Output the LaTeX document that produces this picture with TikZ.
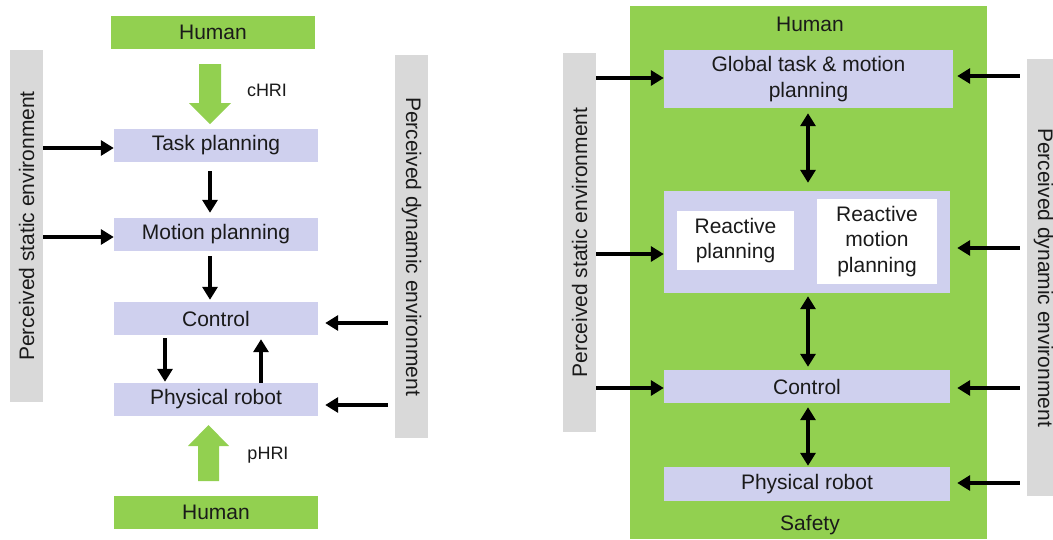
\documentclass[tikz,border=0pt]{standalone}
\usepackage{fontspec}
\setmainfont{Liberation Sans}
\usetikzlibrary{arrows.meta,calc}
\definecolor{hgreen}{HTML}{92D050}
\definecolor{lav}{HTML}{CFD0EE}
\definecolor{gbar}{HTML}{D9D9D9}
\definecolor{txt}{HTML}{1A1A1A}
\begin{document}
\begin{tikzpicture}[x=1pt,y=-1pt,
  tfont/.style={text=txt, font=\fontsize{21}{25.3}\selectfont, align=center},
  box/.style={tfont, fill=lav, inner sep=0pt},
  hbox/.style={tfont, fill=hgreen, inner sep=0pt},
  wbox/.style={tfont, fill=white, inner sep=0pt},
  bar/.style={fill=gbar, inner sep=0pt, minimum width=33pt},
  lbl/.style={tfont, inner sep=0pt},
  arr/.style={line width=4.3pt, -{Triangle[length=13pt,width=15pt]}},
  darr/.style={line width=4.3pt, {Triangle[length=13pt,width=15pt]}-{Triangle[length=13pt,width=15pt]}}
]
\useasboundingbox (0,0) rectangle (1053,539);
\fill[white] (0,0) rectangle (1053,539);

% ---------------- left diagram ----------------
\node[hbox, minimum width=204pt, minimum height=33pt] (hum1) at (213,32.5) {Human};
\node[box, minimum width=204pt, minimum height=33pt] (tp) at (216,145.5) {Task planning};
\node[box, minimum width=204pt, minimum height=33pt] (mp) at (216,234.5) {Motion planning};
\node[box, minimum width=204pt, minimum height=33pt] (ctl) at (216,318.5) {Control};
\node[box, minimum width=204pt, minimum height=33pt] (pr) at (216,399.5) {Physical robot};
\node[hbox, minimum width=204pt, minimum height=33pt] (hum2) at (216,512.5) {Human};

\node[bar, minimum height=352pt] (barL1) at (26.5,226) {};
\node[lbl, rotate=90] (tL1) at (barL1.center) {Perceived static environment};
\node[bar, minimum height=383pt] (barR1) at (411.5,246.5) {};
\node[lbl, rotate=-90] (tR1) at (barR1.center) {Perceived dynamic environment};

% green block arrows
\fill[hgreen] (199,64) -- (221,64) -- (221,103) -- (231,103) -- (210,124) -- (189,103) -- (199,103) -- cycle;
\fill[hgreen] (198,481) -- (219,481) -- (219,446) -- (229,446) -- (208.5,425) -- (188,446) -- (198,446) -- cycle;
\node[lbl, font=\fontsize{18}{20}\selectfont] (chri) at (267,90) {cHRI};
\node[lbl, font=\fontsize{18}{20}\selectfont] (phri) at (268,455) {pHRI};

% black arrows
\draw[arr, shorten <=9pt, shorten >=5pt] ([xshift=-6pt]tp.south) -- ([xshift=-6pt]mp.north);
\draw[arr, shorten <=5pt, shorten >=2pt] ([xshift=-6pt]mp.south) -- ([xshift=-6pt]ctl.north);
\draw[arr, shorten <=3pt, shorten >=1pt] ([xshift=-51pt]ctl.south) -- ([xshift=-51pt]pr.north);
\draw[arr, shorten <=0pt, shorten >=4pt] ([xshift=45pt]pr.north) -- ([xshift=45pt]ctl.south);

\coordinate (tpw) at ($(tp.west)+(0,2.5)$);
\coordinate (mpw) at ($(mp.west)+(0,2.5)$);
\coordinate (ctle) at ($(ctl.east)+(0,4.5)$);
\coordinate (pre) at ($(pr.east)+(0,5.5)$);
\draw[arr] (barL1.east |- tpw) -- (tpw);
\draw[arr] (barL1.east |- mpw) -- (mpw);
\draw[arr, shorten <=7pt, shorten >=7pt] (barR1.west |- ctle) -- (ctle);
\draw[arr, shorten <=7pt, shorten >=7pt] (barR1.west |- pre) -- (pre);

% ---------------- right diagram ----------------
\node[fill=hgreen, inner sep=0pt, minimum width=357pt, minimum height=533pt] (safe) at (808.5,272.5) {};
\node[lbl] (hum3) at (810,24) {Human};
\node[lbl] (saf) at (810,525) {Safety};

\node[box, minimum width=289pt, minimum height=58pt] (gtm) at (808.5,79) {Global task \& motion\\planning};
\node[box, minimum width=286pt, minimum height=102pt] (rc) at (807,242) {};
\node[wbox, minimum width=117pt, minimum height=59pt] (rp) at (735.5,240.5) {Reactive\\planning};
\node[wbox, minimum width=120pt, minimum height=85pt] (rmp) at (877,241.5) {Reactive\\motion\\planning};
\node[box, minimum width=286pt, minimum height=33pt] (ctl2) at (807,386.5) {Control};
\node[box, minimum width=286pt, minimum height=34pt] (pr2) at (807,484) {Physical robot};

\node[bar, minimum height=379pt] (barL2) at (579.5,242.5) {};
\node[lbl, rotate=90] (tL2) at (barL2.center) {Perceived static environment};
\node[bar, minimum height=437pt] (barR2) at (1043.5,277.5) {};
\node[lbl, rotate=-90] (tR2) at (barR2.center) {Perceived dynamic environment};

\draw[darr, shorten <=5pt, shorten >=8pt] ([xshift=-0.5pt]gtm.south) -- ([xshift=1pt]rc.north);
\draw[darr, shorten <=3pt, shorten >=3pt] ([xshift=1pt]rc.south) -- ([xshift=1pt]ctl2.north);
\draw[darr, shorten <=4pt, shorten >=1pt] ([xshift=1pt]ctl2.south) -- ([xshift=1pt]pr2.north);

\coordinate (gl) at ($(gtm.west)+(0,-1)$);
\coordinate (rl) at ($(rc.west)+(0,12)$);
\coordinate (cl) at ($(ctl2.west)+(0,1.5)$);
\draw[arr] (barL2.east |- gl) -- (gl);
\draw[arr] (barL2.east |- rl) -- (rl);
\draw[arr] (barL2.east |- cl) -- (cl);

\coordinate (gr) at ($(gtm.east)+(0,-3)$);
\coordinate (rr) at ($(rc.east)+(0,6)$);
\coordinate (cr) at ($(ctl2.east)+(0,1.5)$);
\coordinate (pr2r) at ($(pr2.east)+(0,-1)$);
\draw[arr, shorten <=7pt, shorten >=4pt] (barR2.west |- gr) -- (gr);
\draw[arr, shorten <=7pt, shorten >=7pt] (barR2.west |- rr) -- (rr);
\draw[arr, shorten <=7pt, shorten >=7pt] (barR2.west |- cr) -- (cr);
\draw[arr, shorten <=7pt, shorten >=7pt] (barR2.west |- pr2r) -- (pr2r);
\end{tikzpicture}
\end{document}
